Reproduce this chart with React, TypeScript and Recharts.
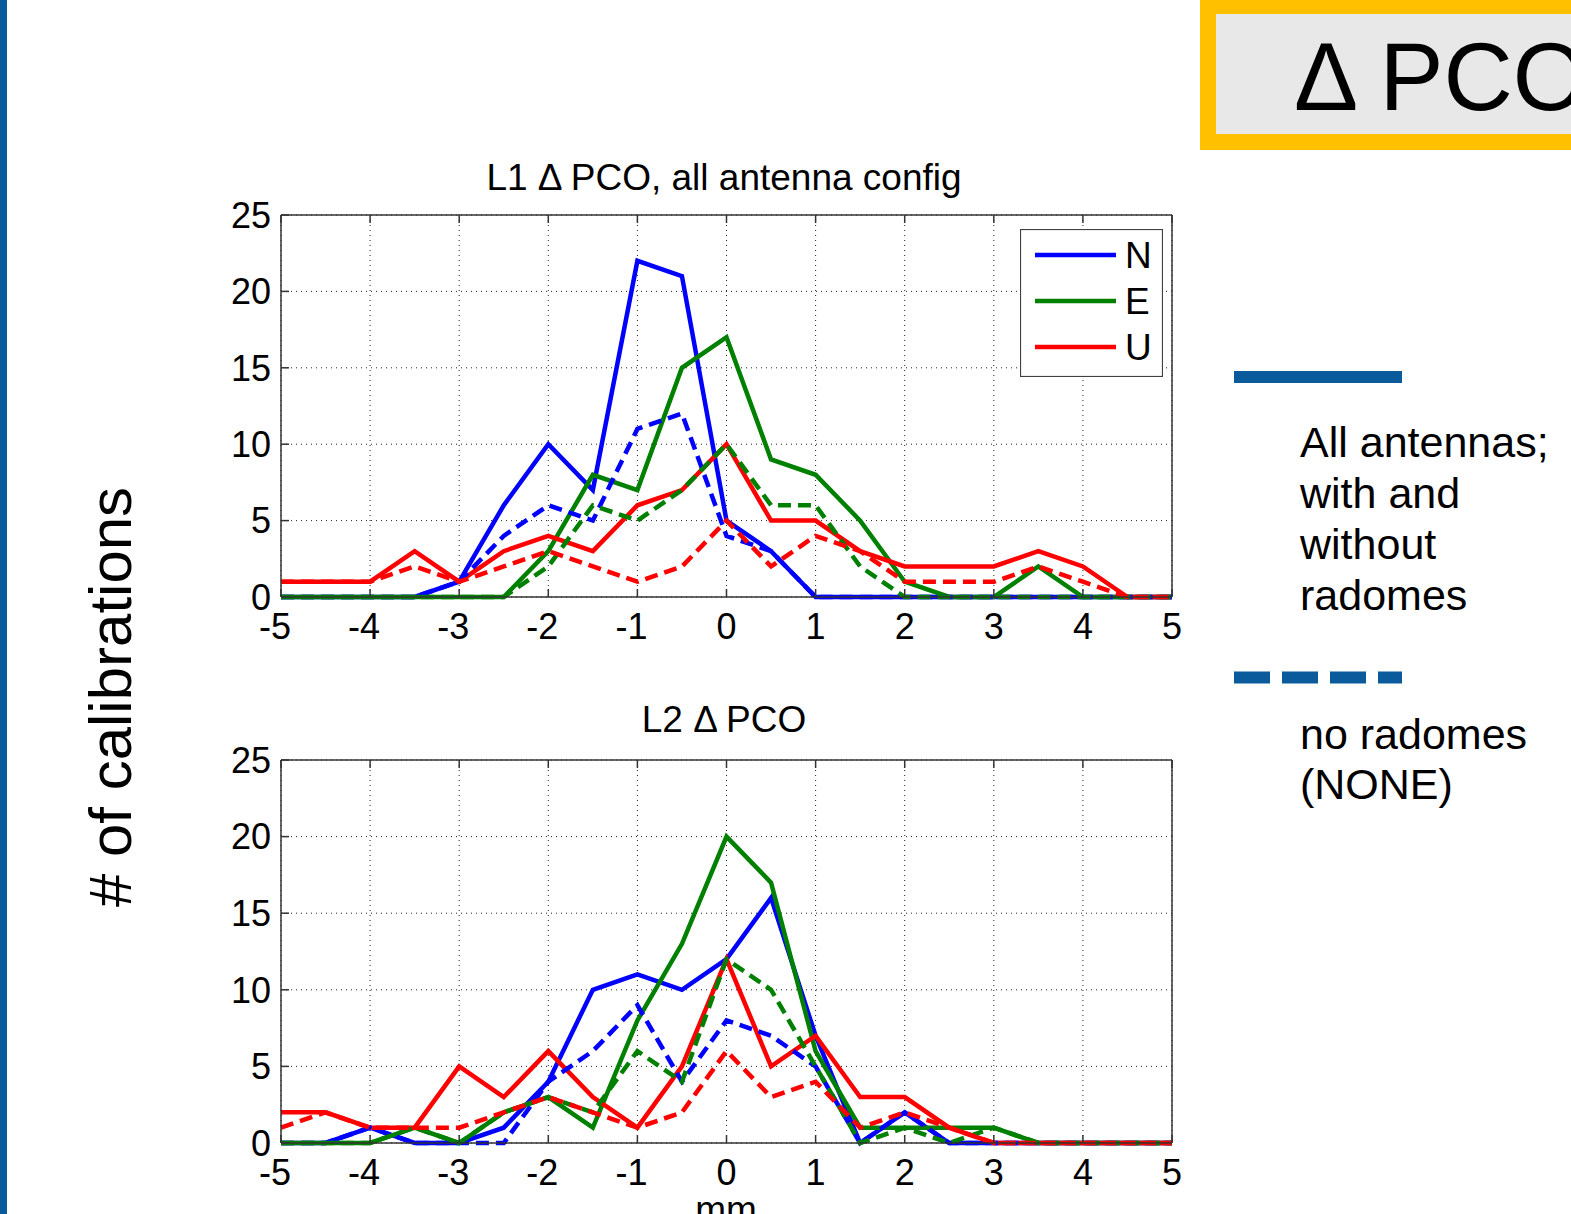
import { CartesianGrid, Legend, Line, LineChart, XAxis, YAxis } from 'recharts'

const FONT = '"Liberation Sans", Arial, Helvetica, sans-serif'
const BRAND = '#0a5a9c'
const AXIS = '#333333'

// offsets in mm, one bin every half millimetre
const bins = [-5, -4.5, -4, -3.5, -3, -2.5, -2, -1.5, -1, -0.5, 0, 0.5, 1, 1.5, 2, 2.5, 3, 3.5, 4, 4.5, 5]
const xTicks = [-5, -4, -3, -2, -1, 0, 1, 2, 3, 4, 5]
const yTicks = [0, 5, 10, 15, 20, 25]

// L1: all antennas (solid) and no-radome antennas (dashed)
const l1North = [0, 0, 0, 0, 1, 6, 10, 7, 22, 21, 5, 3, 0, 0, 0, 0, 0, 0, 0, 0, 0]
const l1East = [0, 0, 0, 0, 0, 0, 3, 8, 7, 15, 17, 9, 8, 5, 1, 0, 0, 2, 0, 0, 0]
const l1Up = [1, 1, 1, 3, 1, 3, 4, 3, 6, 7, 10, 5, 5, 3, 2, 2, 2, 3, 2, 0, 0]
const l1NorthNone = [0, 0, 0, 0, 1, 4, 6, 5, 11, 12, 4, 3, 0, 0, 0, 0, 0, 0, 0, 0, 0]
const l1EastNone = [0, 0, 0, 0, 0, 0, 2, 6, 5, 7, 10, 6, 6, 2, 0, 0, 0, 0, 0, 0, 0]
const l1UpNone = [1, 1, 1, 2, 1, 2, 3, 2, 1, 2, 5, 2, 4, 3, 1, 1, 1, 2, 1, 0, 0]

// L2
const l2North = [0, 0, 1, 0, 0, 1, 4, 10, 11, 10, 12, 16, 7, 0, 2, 0, 0, 0, 0, 0, 0]
const l2East = [0, 0, 0, 1, 0, 2, 3, 1, 8, 13, 20, 17, 6, 1, 1, 1, 1, 0, 0, 0, 0]
const l2Up = [2, 2, 1, 1, 5, 3, 6, 3, 1, 5, 12, 5, 7, 3, 3, 1, 0, 0, 0, 0, 0]
const l2NorthNone = [0, 0, 1, 0, 0, 0, 4, 6, 9, 4, 8, 7, 5, 0, 2, 0, 0, 0, 0, 0, 0]
const l2EastNone = [0, 0, 0, 1, 0, 2, 3, 2, 6, 4, 12, 10, 5, 0, 1, 0, 1, 0, 0, 0, 0]
const l2UpNone = [1, 2, 1, 1, 1, 2, 3, 2, 1, 2, 6, 3, 4, 1, 2, 1, 0, 0, 0, 0, 0]

const series = [
  { key: 'n', name: 'N', color: '#0000ff', dashed: false },
  { key: 'e', name: 'E', color: '#008000', dashed: false },
  { key: 'u', name: 'U', color: '#ff0000', dashed: false },
  { key: 'nNone', name: 'N none', color: '#0000ff', dashed: true },
  { key: 'eNone', name: 'E none', color: '#008000', dashed: true },
  { key: 'uNone', name: 'U none', color: '#ff0000', dashed: true },
]

function rows(cols: number[][]) {
  return bins.map((x, i) => ({
    x,
    n: cols[0][i],
    e: cols[1][i],
    u: cols[2][i],
    nNone: cols[3][i],
    eNone: cols[4][i],
    uNone: cols[5][i],
  }))
}

const l1Data = rows([l1North, l1East, l1Up, l1NorthNone, l1EastNone, l1UpNone])
const l2Data = rows([l2North, l2East, l2Up, l2NorthNone, l2EastNone, l2UpNone])

const tickStyle = { fontSize: 36, fill: '#000', fontFamily: FONT }
const seriesOrder = series.map((s) => s.name)

// x labels: negative numbers sit a little left so the digit lines up with the tick
function MmTick({ x, y, payload }: any) {
  const v = payload.value
  return (
    <text x={x} y={y} dx={v < 0 ? -6 : 0} dy="0.71em" textAnchor="middle" {...tickStyle}>
      {v}
    </text>
  )
}

function NeuLegend({ payload }: any) {
  const items = (payload || [])
    .filter((p: any) => p.type !== 'none')
    .sort((a: any, b: any) => seriesOrder.indexOf(a.value) - seriesOrder.indexOf(b.value))
  return (
    <svg width={143} height={148} style={{ display: 'block' }}>
      <rect x={0.5} y={0.5} width={142} height={147} fill="#fff" stroke="#404040" strokeWidth={1.2} />
      {items.map((p: any, i: number) => (
        <g key={p.value}>
          <line x1={15} x2={96} y1={26 + i * 46} y2={26 + i * 46} stroke={p.color} strokeWidth={4.5} />
          <text x={105} y={26 + i * 46 + 13} fontSize={37} fontFamily={FONT} fill="#000">
            {p.value}
          </text>
        </g>
      ))}
    </svg>
  )
}

const W = 1240
const PLOT_LEFT = 281
const PLOT_RIGHT = 1172
const Y_AXIS_W = 80
const X_AXIS_H = 50

function PcoPanel({ top, height, plotTop, plotBottom, data, legend }: {
  top: number
  height: number
  plotTop: number
  plotBottom: number
  data: any[]
  legend?: boolean
}) {
  const margin = {
    top: plotTop - top - 1,
    bottom: top + height - plotBottom - X_AXIS_H,
    left: PLOT_LEFT - Y_AXIS_W,
    right: W - PLOT_RIGHT - 10,
  }
  return (
    <div style={{ position: 'absolute', left: 0, top, width: W, height }}>
      <LineChart width={W} height={height} data={data} margin={margin}>
        <CartesianGrid stroke="#222" strokeDasharray="1 4" strokeWidth={1} />
        <XAxis
          dataKey="x"
          type="number"
          domain={[-5, 5]}
          ticks={xTicks}
          interval={0}
          height={X_AXIS_H}
          tickSize={-8}
          tickMargin={24}
          tick={<MmTick />}
          axisLine={{ stroke: AXIS, strokeWidth: 1.5 }}
          tickLine={{ stroke: AXIS, strokeWidth: 1.5 }}
        />
        <XAxis
          xAxisId="top"
          dataKey="x"
          orientation="top"
          type="number"
          domain={[-5, 5]}
          ticks={xTicks}
          interval={0}
          height={1}
          tickSize={-8}
          tickFormatter={() => ''}
          axisLine={{ stroke: AXIS, strokeWidth: 1.5 }}
          tickLine={{ stroke: AXIS, strokeWidth: 1.5 }}
        />
        <YAxis
          type="number"
          domain={[0, 25]}
          ticks={yTicks}
          interval={0}
          width={Y_AXIS_W}
          tickSize={-8}
          tickMargin={18}
          tick={tickStyle}
          axisLine={{ stroke: AXIS, strokeWidth: 1.5 }}
          tickLine={{ stroke: AXIS, strokeWidth: 1.5 }}
        />
        <YAxis
          yAxisId="right"
          orientation="right"
          type="number"
          domain={[0, 25]}
          ticks={yTicks}
          interval={0}
          width={10}
          tickSize={-8}
          tickFormatter={() => ''}
          axisLine={{ stroke: AXIS, strokeWidth: 1.5 }}
          tickLine={{ stroke: AXIS, strokeWidth: 1.5 }}
        />
        {series.map((s) => (
          <Line
            key={s.key}
            type="linear"
            dataKey={s.key}
            name={s.name}
            stroke={s.color}
            strokeWidth={4.5}
            strokeDasharray={s.dashed ? '13 7' : undefined}
            legendType={s.dashed ? 'none' : 'line'}
            dot={false}
            activeDot={false}
            isAnimationActive={false}
          />
        ))}
        {legend && (
          <Legend
            layout="vertical"
            align="center"
            verticalAlign="middle"
            content={<NeuLegend />}
            wrapperStyle={{ left: 1020, top: 229 - top, width: 143, height: 148 }}
          />
        )}
      </LineChart>
    </div>
  )
}

export default function App() {
  return (
    <div style={{ position: 'relative', width: 1571, height: 1214, overflow: 'hidden', background: '#fff', fontFamily: FONT }}>
      <style>{'body{margin:0;overflow:hidden}'}</style>
      <svg width={1571} height={1214} style={{ position: 'absolute', left: 0, top: 0 }}>
        <rect x={0} y={0} width={7} height={1214} fill={BRAND} />

        <rect x={1200} y={0} width={371} height={150} fill="#ffc000" />
        <rect x={1216} y={14} width={355} height={120} fill="#e8e8e8" />
        <text x={1294} y={109.5} fontSize={96} fontFamily={FONT} fill="#000">Δ PCO</text>

        <rect x={1234} y={371} width={168} height={12} fill={BRAND} />
        <line x1={1234} x2={1402} y1={677.5} y2={677.5} stroke={BRAND} strokeWidth={12} strokeDasharray="36 12" />
        <g fontSize={43} fontFamily={FONT} fill="#000">
          <text x={1300} y={456.5}>All antennas;</text>
          <text x={1300} y={507.5}>with and</text>
          <text x={1300} y={558.5}>without</text>
          <text x={1300} y={610}>radomes</text>
          <text x={1300} y={748.5}>no radomes</text>
          <text x={1300} y={798.5}>(NONE)</text>
        </g>

        <text transform="translate(131,697) rotate(-90)" textAnchor="middle" fontSize={60} fontFamily={FONT} fill="#000">
          # of calibrations
        </text>

        <g fontSize={37} fontFamily={FONT} fill="#000" textAnchor="middle">
          <text x={724} y={190}>L1 Δ PCO, all antenna config</text>
          <text x={724} y={732}>L2 Δ PCO</text>
          <text x={726} y={1222}>mm</text>
        </g>
      </svg>
      <PcoPanel top={150} height={520} plotTop={215} plotBottom={597} data={l1Data} legend />
      <PcoPanel top={700} height={514} plotTop={760} plotBottom={1143} data={l2Data} />
    </div>
  )
}
